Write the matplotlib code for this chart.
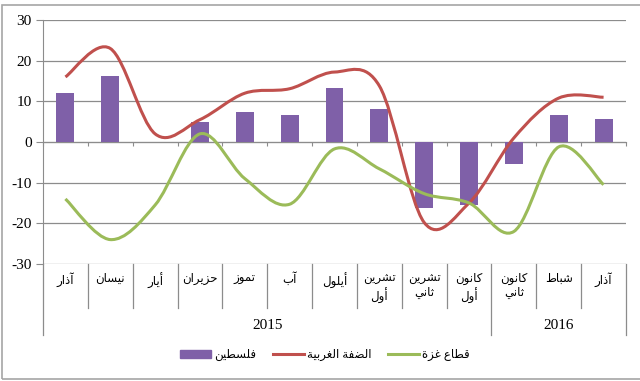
import matplotlib
matplotlib.use("Agg")
import matplotlib.pyplot as plt
import matplotlib.transforms as mtransforms
from matplotlib.path import Path
from matplotlib.patches import PathPatch, Rectangle
from matplotlib.lines import Line2D

# ---- data ----
months = ["آذار", "نيسان", "أيار", "حزيران", "تموز", "آب", "أيلول",
          "تشرين\nأول", "تشرين\nثاني", "كانون\nأول", "كانون\nثاني", "شباط", "آذار"]
years = ["2015", "2016"]
year_start = [0, 10]          # first month index of each year
palestine = [12.0, 16.2, 0.0, 5.0, 7.5, 6.7, 13.2, 8.0, -16.3, -15.5, -5.4, 6.7, 5.6]
west_bank = [16.0, 23.0, 2.0, 5.5, 12.0, 13.1, 17.2, 13.8, -19.8, -15.0, 1.0, 10.8, 11.0]
gaza = [-14.0, -24.0, -15.5, 2.0, -9.0, -15.3, -1.7, -6.6, -12.7, -15.0, -22.0, -1.2, -10.5]
names = ["فلسطين", "الضفة الغربية", "قطاع غزة"]

PURPLE = "#7F60A8"
RED = "#C0504D"
GREEN = "#9BBB59"
GRID = "#8c8c8c"

# ---- minimal arabic shaping (matplotlib has no bidi / joining) ----
FORMS = {
    "ا": (0xFE8D, 0xFE8E), "آ": (0xFE81, 0xFE82), "أ": (0xFE83, 0xFE84),
    "ب": (0xFE8F, 0xFE90, 0xFE91, 0xFE92), "ة": (0xFE93, 0xFE94),
    "ت": (0xFE95, 0xFE96, 0xFE97, 0xFE98), "ث": (0xFE99, 0xFE9A, 0xFE9B, 0xFE9C),
    "ح": (0xFEA1, 0xFEA2, 0xFEA3, 0xFEA4), "ذ": (0xFEAB, 0xFEAC),
    "ر": (0xFEAD, 0xFEAE), "ز": (0xFEAF, 0xFEB0),
    "س": (0xFEB1, 0xFEB2, 0xFEB3, 0xFEB4), "ش": (0xFEB5, 0xFEB6, 0xFEB7, 0xFEB8),
    "ض": (0xFEBD, 0xFEBE, 0xFEBF, 0xFEC0), "ط": (0xFEC1, 0xFEC2, 0xFEC3, 0xFEC4),
    "ع": (0xFEC9, 0xFECA, 0xFECB, 0xFECC), "غ": (0xFECD, 0xFECE, 0xFECF, 0xFED0),
    "ف": (0xFED1, 0xFED2, 0xFED3, 0xFED4), "ق": (0xFED5, 0xFED6, 0xFED7, 0xFED8),
    "ك": (0xFED9, 0xFEDA, 0xFEDB, 0xFEDC), "ل": (0xFEDD, 0xFEDE, 0xFEDF, 0xFEE0),
    "م": (0xFEE1, 0xFEE2, 0xFEE3, 0xFEE4), "ن": (0xFEE5, 0xFEE6, 0xFEE7, 0xFEE8),
    "و": (0xFEED, 0xFEEE), "ي": (0xFEF1, 0xFEF2, 0xFEF3, 0xFEF4),
}


def shape_line(s):
    out = []
    for i, ch in enumerate(s):
        if ch not in FORMS:
            out.append(ch)
            continue
        f = FORMS[ch]
        prev = s[i - 1] if i > 0 else ""
        nxt = s[i + 1] if i + 1 < len(s) else ""
        jp = prev in FORMS and len(FORMS[prev]) == 4
        jn = len(f) == 4 and nxt in FORMS
        if jp and jn:
            c = f[3]
        elif jp:
            c = f[1]
        elif jn:
            c = f[2]
        else:
            c = f[0]
        out.append(chr(c))
    return "".join(out[::-1])


def ar(s):
    return "\n".join(shape_line(l) for l in s.split("\n"))


def smooth_path(xs, ys):
    # excel-like smoothed line (cubic bezier through the points)
    pts = list(zip(xs, ys))
    n = len(pts)
    verts = [pts[0]]
    codes = [Path.MOVETO]
    for i in range(n - 1):
        p0 = pts[i - 1] if i > 0 else pts[i]
        p1 = pts[i]
        p2 = pts[i + 1]
        p3 = pts[i + 2] if i + 2 < n else pts[i + 1]
        c1 = (p1[0] + (p2[0] - p0[0]) / 6, p1[1] + (p2[1] - p0[1]) / 6)
        c2 = (p2[0] - (p3[0] - p1[0]) / 6, p2[1] - (p3[1] - p1[1]) / 6)
        verts += [c1, c2, p2]
        codes += [Path.CURVE4] * 3
    return Path(verts, codes)


plt.rcParams['font.family'] = ['Liberation Serif', 'DejaVu Sans']
plt.rcParams['axes.unicode_minus'] = False

fig = plt.figure(figsize=(6.4, 3.81), dpi=100)
ax = fig.add_axes([43 / 640, 1 - 264 / 381, 583 / 640, 244 / 381])

x = [i + 0.5 for i in range(len(months))]

ax.bar(x, palestine, width=0.4, color=PURPLE, zorder=3, label=ar(names[0]))
ax.add_patch(PathPatch(smooth_path(x, west_bank), fill=False, ec=RED, lw=2.2, zorder=4))
ax.add_patch(PathPatch(smooth_path(x, gaza), fill=False, ec=GREEN, lw=2.2, zorder=4))

ax.set_xlim(0, len(months))
ax.set_ylim(-30, 30)
ax.set_yticks(range(-30, 31, 10))
ax.yaxis.grid(True, color=GRID, lw=0.9)
ax.set_axisbelow(True)

for s in ["top", "right"]:
    ax.spines[s].set_visible(False)
ax.spines["left"].set_color(GRID)
ax.spines["bottom"].set_position(("data", 0))
ax.spines["bottom"].set_color(GRID)
ax.set_xticks(range(len(months) + 1))
ax.set_xticklabels([])
ax.tick_params(axis="x", direction="out", length=3, color=GRID)
ax.tick_params(axis="y", direction="out", length=5, color=GRID, labelsize=11, pad=3)

# category axis below the plot
tr = mtransforms.blended_transform_factory(ax.transData, ax.transAxes)
for i in range(len(months) + 1):
    long_ = i in year_start or i == len(months)
    ybot = -0.291 if long_ else -0.18
    ax.plot([i, i], [0, ybot], transform=tr, color=GRID, lw=0.9, clip_on=False)
for i, m in enumerate(months):
    ax.text(i + 0.5, -0.035, ar(m), transform=tr, ha="center", va="top",
            fontsize=8.5, linespacing=1.25)
bounds = year_start + [len(months)]
for k, yr in enumerate(years):
    ax.text((bounds[k] + bounds[k + 1]) / 2, -0.254, yr, transform=tr,
            ha="center", va="center", fontsize=11)

handles = [Rectangle((0, 0), 1, 1, color=PURPLE),
           Line2D([], [], color=RED, lw=2.2),
           Line2D([], [], color=GREEN, lw=2.2)]
fig.legend(handles, [ar(n) for n in names], loc="center",
           bbox_to_anchor=(325 / 640, 1 - 355 / 381), ncol=3, frameon=False,
           fontsize=8.5, handlelength=2.6, handletextpad=0.3, columnspacing=1.4)

fig.add_artist(Rectangle((2 / 640, 2 / 381), 1.2, 1 - 7 / 381, transform=fig.transFigure,
                         fill=False, ec="#a6a6a6", lw=1.2))

fig.savefig("out.png", dpi=100)
